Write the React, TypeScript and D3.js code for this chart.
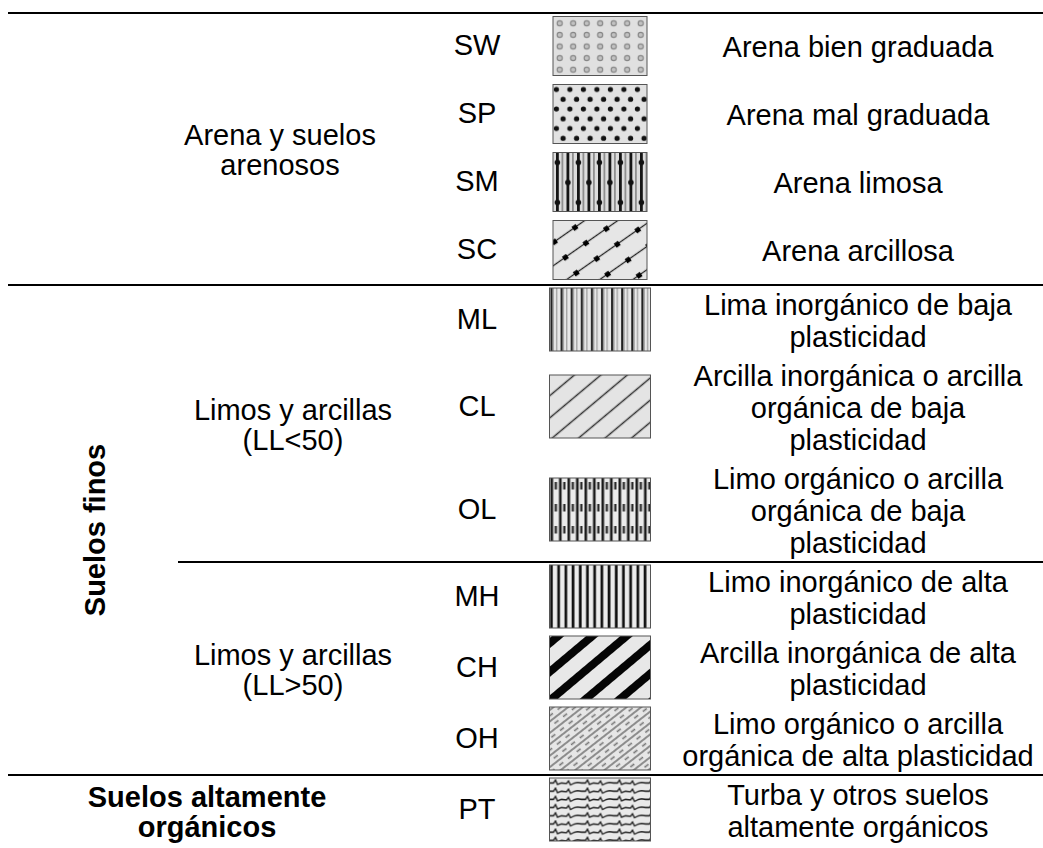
import * as d3 from 'd3';

// table content
const codes = ['SW', 'SP', 'SM', 'SC', 'ML', 'CL', 'OL', 'MH', 'CH', 'OH', 'PT'];
const descriptions = [
  ['Arena bien graduada'],
  ['Arena mal graduada'],
  ['Arena limosa'],
  ['Arena arcillosa'],
  ['Lima inorgánico de baja', 'plasticidad'],
  ['Arcilla inorgánica o arcilla', 'orgánica de baja', 'plasticidad'],
  ['Limo orgánico o arcilla', 'orgánica de baja', 'plasticidad'],
  ['Limo inorgánico de alta', 'plasticidad'],
  ['Arcilla inorgánica de alta', 'plasticidad'],
  ['Limo orgánico o arcilla', 'orgánica de alta plasticidad'],
  ['Turba y otros suelos', 'altamente orgánicos'],
];
const subgroupOf = [0, 0, 0, 0, 1, 1, 1, 2, 2, 2, 3];
const subgroupLabels = [
  ['Arena y suelos', 'arenosos'],
  ['Limos y arcillas', '(LL<50)'],
  ['Limos y arcillas', '(LL>50)'],
  ['Suelos altamente', 'orgánicos'],
];
const subgroupBold = [false, false, false, true];
const majorLabel = 'Suelos finos';
const majorSubgroups = [1, 2];

const W = 1043;
const H = 848;
const top = 13;
const fontSize = 29;
const lineH = 32;
const font = '"Liberation Sans", Arial, Helvetica, sans-serif';

const codeX = 477;
const swatchCX = 600;
const descX = 858;
const groupX = [280, 293, 293, 207];
const majorX = 95;

// row heights follow the number of description lines
const rowH = descriptions.map((d) => (d.length === 1 ? 68 : d.length * 32 + 7));
const rowTop = [top, ...Array.from(d3.cumsum(rowH)).map((v) => top + v)];

const y = (i: number) => rowTop[i] + rowH[i] / 2;
// the sand swatches are a little smaller than the others
const swW = (i: number) => (subgroupOf[i] === 0 ? 94 : 101);
const swH = (i: number) => (subgroupOf[i] === 0 ? 59 : 63);

const subStart = (g: number) => rowTop[subgroupOf.indexOf(g)];
const subEnd = (g: number) => rowTop[subgroupOf.lastIndexOf(g) + 1];

const Pattern = ({ code, x0, y0 }: { code: string; x0: number; y0: number }) => {
  const id = `p-${code}`;
  const bg = (w: number, h: number, c = '#e6e6e6') => <rect width={w} height={h} fill={c} />;
  switch (code) {
    case 'SW':
      return (
        <pattern id={id} x={x0} y={y0} width={13.5} height={11.6} patternUnits="userSpaceOnUse">
          {bg(13.5, 11.6, '#e0e0e0')}
          <circle cx={6.7} cy={5.8} r={2.6} fill="#c2c2c2" stroke="#858585" strokeWidth={1.1} />
        </pattern>
      );
    case 'SP':
      return (
        <pattern id={id} x={x0} y={y0} width={13.5} height={19.5} patternUnits="userSpaceOnUse">
          {bg(13.5, 19.5, '#e2e2e2')}
          <circle cx={3.4} cy={4} r={2.6} fill="#111" />
          <circle cx={10.1} cy={13.8} r={2.6} fill="#111" />
        </pattern>
      );
    case 'SM':
      return (
        <pattern id={id} x={x0} y={y0} width={21} height={40} patternUnits="userSpaceOnUse">
          {bg(21, 40, '#dcdcdc')}
          <rect x={3} width={2.8} height={40} fill="#151515" />
          <rect x={8.5} width={1.8} height={40} fill="#8f8f8f" />
          <rect x={13.5} width={2.8} height={40} fill="#151515" />
          <rect x={19} width={1.8} height={40} fill="#8f8f8f" />
          <circle cx={4.4} cy={9} r={2.8} fill="#111" />
          <circle cx={14.9} cy={29} r={2.8} fill="#111" />
        </pattern>
      );
    case 'SC':
      return (
        <pattern id={id} x={x0} y={y0} width={25} height={19} patternUnits="userSpaceOnUse" patternTransform="rotate(-35)">
          {bg(25, 19, '#e6e6e6')}
          <line x1={0} x2={25} y1={9.5} y2={9.5} stroke="#222" strokeWidth={1.3} />
          <rect x={10} y={7.2} width={5} height={5} fill="#000" />
        </pattern>
      );
    case 'ML':
      return (
        <pattern id={id} x={x0} y={y0} width={10.1} height={10} patternUnits="userSpaceOnUse">
          {bg(10.1, 10, '#e8e8e8')}
          <rect x={1} width={2.2} height={10} fill="#1e1e1e" />
          <rect x={3.2} width={1.2} height={10} fill="#9a9a9a" />
          <rect x={6.4} width={1.4} height={10} fill="#a5a5a5" />
        </pattern>
      );
    case 'CL':
      return (
        <pattern id={id} x={x0} y={y0} width={22} height={17} patternUnits="userSpaceOnUse" patternTransform="rotate(-40)">
          {bg(22, 17, '#e4e4e4')}
          <line x1={0} x2={22} y1={8.5} y2={8.5} stroke="#333" strokeWidth={1.5} />
        </pattern>
      );
    case 'OL':
      return (
        <pattern id={id} x={x0} y={y0} width={17} height={22} patternUnits="userSpaceOnUse">
          {bg(17, 22, '#ebebeb')}
          <rect x={1} width={2.6} height={22} fill="#1a1a1a" />
          <rect x={9.5} width={2.6} height={22} fill="#1a1a1a" />
          <rect x={5.2} y={3} width={2.3} height={7.5} fill="#2a2a2a" />
          <rect x={13.7} y={3} width={2.3} height={7.5} fill="#2a2a2a" />
        </pattern>
      );
    case 'MH':
      return (
        <pattern id={id} x={x0} y={y0} width={7.2} height={10} patternUnits="userSpaceOnUse">
          {bg(7.2, 10, '#ececec')}
          <rect x={0.6} width={2.7} height={10} fill="#111" />
        </pattern>
      );
    case 'CH':
      return (
        <pattern id={id} x={x0} y={y0} width={24} height={22} patternUnits="userSpaceOnUse" patternTransform="rotate(-40)">
          {bg(24, 22, '#e8e8e8')}
          <rect y={7} width={24} height={8} fill="#050505" />
        </pattern>
      );
    case 'OH':
      return (
        <pattern id={id} x={x0} y={y0} width={22} height={9} patternUnits="userSpaceOnUse" patternTransform="rotate(-38)">
          {bg(22, 9, '#e6e6e6')}
          <line x1={0} x2={22} y1={1} y2={1} stroke="#444" strokeWidth={1.1} />
          <line x1={3} x2={8} y1={5.5} y2={5.5} stroke="#777" strokeWidth={1.6} />
          <line x1={14} x2={19} y1={5.5} y2={5.5} stroke="#777" strokeWidth={1.6} />
        </pattern>
      );
    default: {
      const wave = d3.line()([
        [0, 4], [4, 4], [6, 1], [8, 5.5], [12, 4], [17, 4.5], [19, 2], [21, 6], [25, 4], [28, 3.5], [32, 4],
      ]);
      return (
        <pattern id={id} x={x0} y={y0} width={32} height={8.2} patternUnits="userSpaceOnUse">
          {bg(32, 8.2, '#e9e9e9')}
          <path d={wave || ''} fill="none" stroke="#222" strokeWidth={1.4} />
        </pattern>
      );
    }
  }
};

const TextBlock = ({ lines, x, cy, spacing, bold }: { lines: string[]; x: number; cy: number; spacing: number; bold?: boolean }) => (
  <text x={x} textAnchor="middle" fontFamily={font} fontSize={fontSize} fontWeight={bold ? 'bold' : 'normal'} fill="#000">
    {lines.map((l, k) => (
      <tspan key={k} x={x} y={cy + (k - (lines.length - 1) / 2) * spacing} dy="0.35em">
        {l}
      </tspan>
    ))}
  </text>
);

export default function App() {
  const majorTop = subStart(majorSubgroups[0]);
  const majorBottom = subEnd(majorSubgroups[majorSubgroups.length - 1]);
  // horizontal rules: top, between sections
  const rules = [
    { y: top, x1: 8 },
    { y: subStart(1), x1: 8 },
    { y: subStart(2), x1: 178 },
    { y: subStart(3), x1: 8 },
  ];

  return (
    <svg width={W} height={H} style={{ position: 'absolute', left: 0, top: 0, background: '#fff' }}>
      <defs>
        {codes.map((c, i) => (
          <Pattern key={c} code={c} x0={swatchCX - swW(i) / 2} y0={y(i) - swH(i) / 2} />
        ))}
      </defs>
      <rect width={W} height={H} fill="#fff" />

      {rules.map((r, i) => (
        <line key={i} x1={r.x1} x2={W} y1={r.y} y2={r.y} stroke="#000" strokeWidth={2.2} />
      ))}

      {subgroupLabels.map((lines, g) => (
        <TextBlock key={g} lines={lines} x={groupX[g]} cy={(subStart(g) + subEnd(g)) / 2 + 1} spacing={30} bold={subgroupBold[g]} />
      ))}

      <text
        transform={`translate(${majorX},${(majorTop + majorBottom) / 2}) rotate(-90)`}
        textAnchor="middle"
        dy="0.35em"
        fontFamily={font}
        fontSize={fontSize}
        fontWeight="bold"
      >
        {majorLabel}
      </text>

      {codes.map((c, i) => (
        <g key={c}>
          <text x={codeX} y={y(i) - 2} dy="0.35em" textAnchor="middle" fontFamily={font} fontSize={fontSize}>
            {c}
          </text>
          <rect
            x={swatchCX - swW(i) / 2}
            y={y(i) - swH(i) / 2 - 1}
            width={swW(i)}
            height={swH(i)}
            fill={`url(#p-${c})`}
            stroke="#555"
            strokeWidth={1}
          />
          <TextBlock lines={descriptions[i]} x={descX} cy={y(i)} spacing={lineH} />
        </g>
      ))}
    </svg>
  );
}
